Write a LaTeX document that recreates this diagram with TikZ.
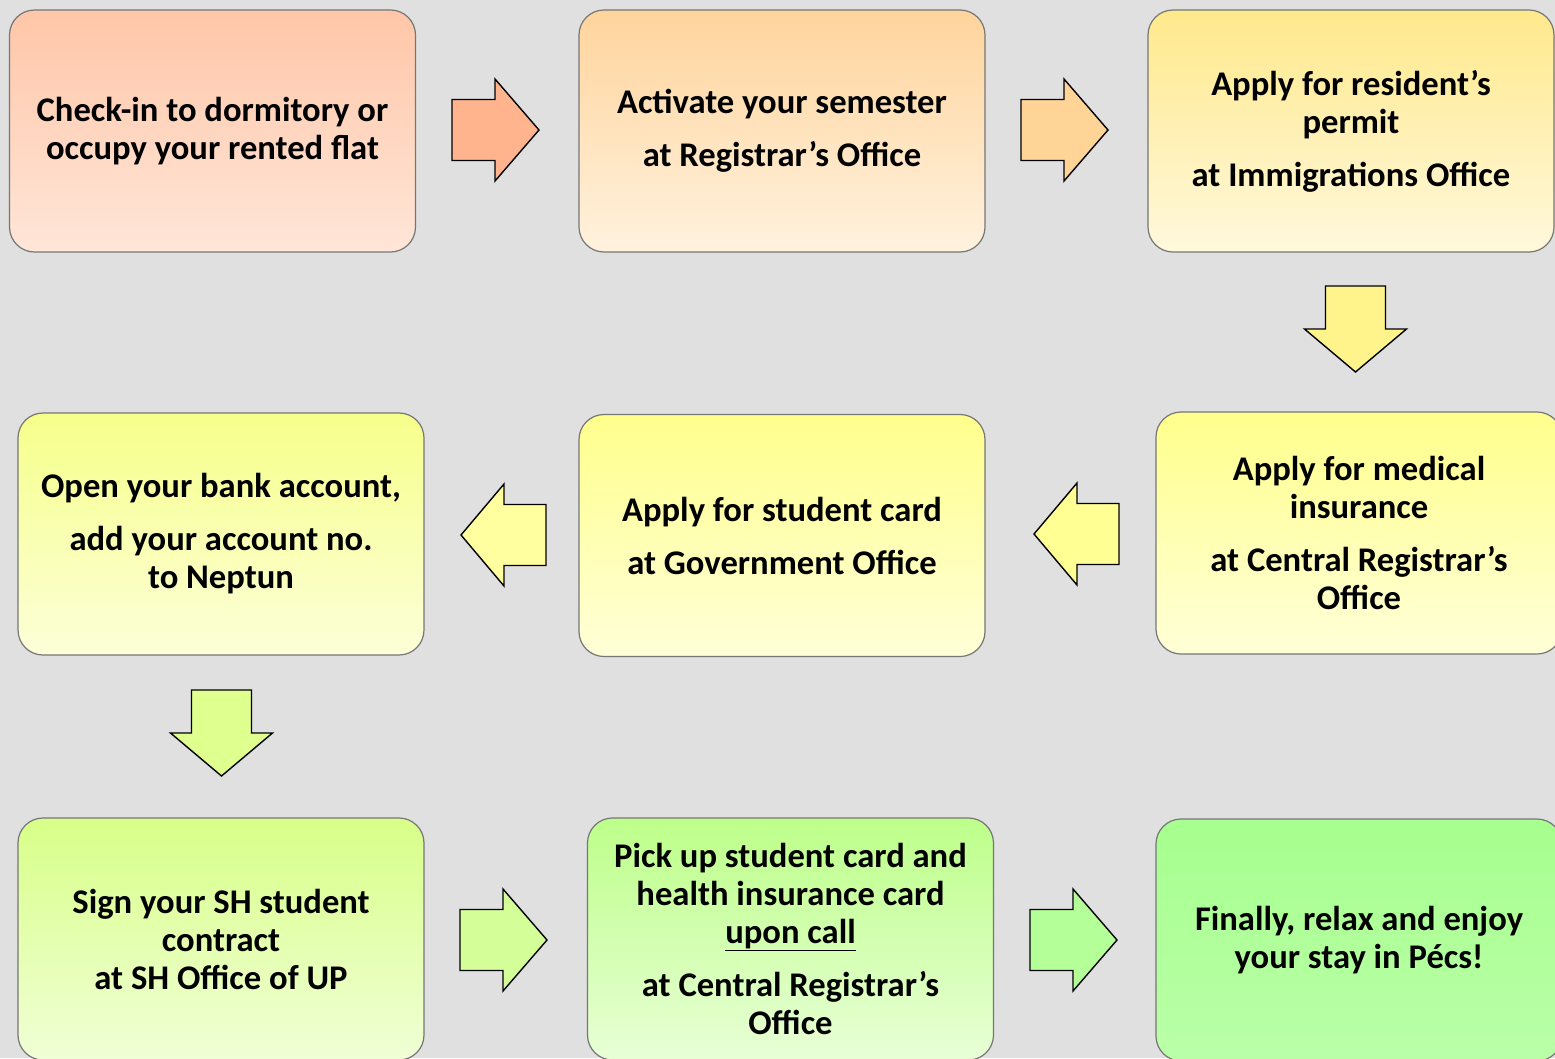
\documentclass[tikz,border=0pt]{standalone}
\usepackage{fontspec}
\setmainfont{Carlito}
\definecolor{bg}{RGB}{224,224,224}
\definecolor{boxline}{RGB}{118,118,118}
\definecolor{b1t}{RGB}{255,198,168}\definecolor{b1b}{RGB}{255,230,216}
\definecolor{b2t}{RGB}{255,212,156}\definecolor{b2b}{RGB}{255,242,222}
\definecolor{b3t}{RGB}{255,233,140}\definecolor{b3b}{RGB}{255,248,220}
\definecolor{b4t}{RGB}{255,255,140}\definecolor{b4b}{RGB}{255,255,216}
\definecolor{b5t}{RGB}{255,255,140}\definecolor{b5b}{RGB}{255,255,216}
\definecolor{b6t}{RGB}{246,255,138}\definecolor{b6b}{RGB}{252,255,216}
\definecolor{b7t}{RGB}{216,255,136}\definecolor{b7b}{RGB}{240,255,214}
\definecolor{b8t}{RGB}{189,255,138}\definecolor{b8b}{RGB}{232,255,214}
\definecolor{b9t}{RGB}{166,255,142}\definecolor{b9b}{RGB}{186,255,168}
\definecolor{a1}{RGB}{255,180,142}
\definecolor{a2}{RGB}{255,212,150}
\definecolor{a3}{RGB}{255,244,140}
\definecolor{a4}{RGB}{255,255,148}
\definecolor{a5}{RGB}{255,255,160}
\definecolor{a6}{RGB}{223,255,142}
\definecolor{a7}{RGB}{212,255,152}
\definecolor{a8}{RGB}{180,255,152}
\begin{document}
\begin{tikzpicture}[x=1pt,y=-1pt,
  box/.style={draw=boxline, line width=1.2pt, rounded corners=25pt,
    minimum width=406pt, minimum height=242pt, inner sep=0pt, align=center,
    font=\fontsize{34.6}{38}\selectfont\bfseries},
  blk/.style={draw=black, line width=1.4pt, line join=miter},
  pics/rarr/.style={code={\draw[blk,fill=#1] (0,-30.5)--(43,-30.5)--(43,-51)--(87,0)--(43,51)--(43,30.5)--(0,30.5)--cycle;}},
  pics/larr/.style={code={\draw[blk,fill=#1] (0,-30.5)--(-42,-30.5)--(-42,-51)--(-85,0)--(-42,51)--(-42,30.5)--(0,30.5)--cycle;}},
  pics/darr/.style={code={\draw[blk,fill=#1] (-30,0)--(30,0)--(30,43)--(51,43)--(0,86)--(-51,43)--(-30,43)--cycle;}},
]
\useasboundingbox (0,0) rectangle (1555,1058);
\clip (0,0) rectangle (1555,1058);
\fill[bg] (0,0) rectangle (1555,1058);

\node[box, top color=b1t, bottom color=b1b] (s1) at (212.5,131) {Check-in to dormitory or\\occupy your rented flat};
\node[box, top color=b2t, bottom color=b2b] (s2) at (782,131) {Activate your semester\\[15pt]at Registrar’s Office};
\node[box, top color=b3t, bottom color=b3b] (s3) at (1351,131) {Apply for resident’s\\permit\\[15pt]at Immigrations Office};
\node[box, top color=b4t, bottom color=b4b] (s4) at (1359,533) {Apply for medical\\insurance\\[15pt]at Central Registrar’s\\Office};
\node[box, top color=b5t, bottom color=b5b] (s5) at (782,535.5) {Apply for student card\\[15pt]at Government Office};
\node[box, top color=b6t, bottom color=b6b] (s6) at (221,534) {Open your bank account,\\[15pt]add your account no.\\to Neptun};
\node[box, top color=b7t, bottom color=b7b] (s7) at (221,939) {Sign your SH student\\contract\\at SH Office of UP};
\node[box, top color=b8t, bottom color=b8b] (s8) at (790.5,939) {Pick up student card and\\health insurance card\\\underline{upon call}\\[15pt]at Central Registrar’s\\Office};
\node[box, top color=b9t, bottom color=b9b] (s9) at (1359,940) {Finally, relax and enjoy\\your stay in Pécs!};

\pic at (452,130) {rarr=a1};
\pic at (1021,130) {rarr=a2};
\pic at (1355.5,286) {darr=a3};
\pic at (1119,534) {larr=a4};
\pic at (546,535) {larr=a5};
\pic at (221.5,690) {darr=a6};
\pic at (460,940) {rarr=a7};
\pic at (1030,940) {rarr=a8};
\end{tikzpicture}
\end{document}
